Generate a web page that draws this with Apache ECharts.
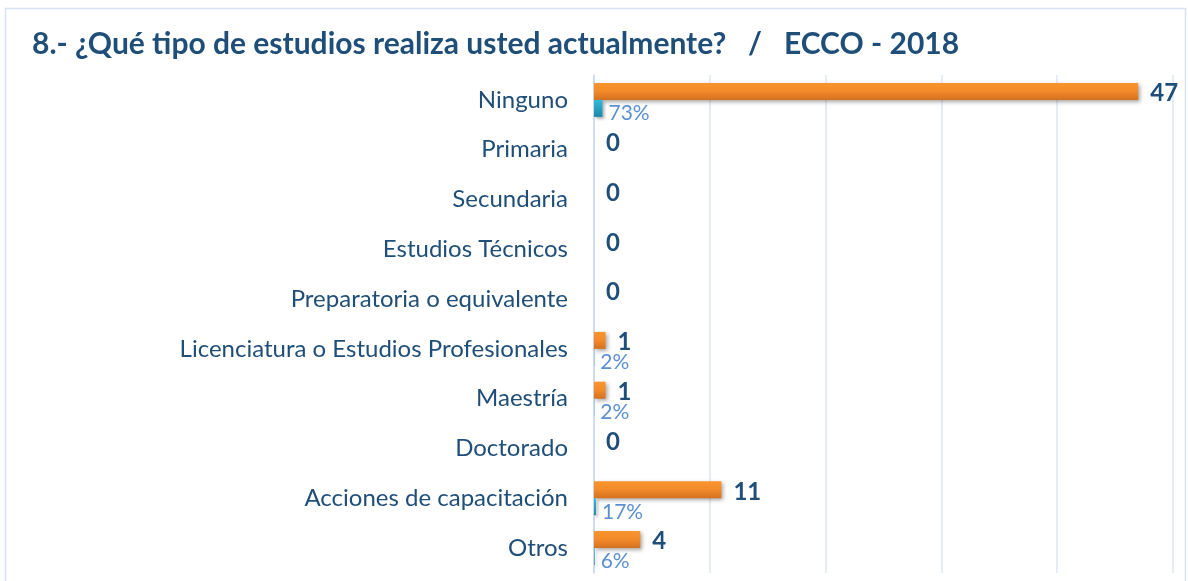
<!DOCTYPE html>
<html>
<head>
<meta charset="utf-8">
<script src="https://cdn.jsdelivr.net/npm/echarts@6/dist/echarts.min.js"></script>
<style>
  html, body { margin: 0; padding: 0; background: #fff; }
  #chart { width: 1188px; height: 581px; }
</style>
</head>
<body>
<div id="chart"></div>
<script>
// datos de la gráfica
const categorias = ['Ninguno', 'Primaria', 'Secundaria', 'Estudios Técnicos',
  'Preparatoria o equivalente', 'Licenciatura o Estudios Profesionales',
  'Maestría', 'Doctorado', 'Acciones de capacitación', 'Otros'];
const respuestas = [47, 0, 0, 0, 0, 1, 1, 0, 11, 4];
const porcentajes = [73, 0, 0, 0, 0, 2, 2, 0, 17, 6];

const azulOscuro = '#1F4E79';
const fuente = 'Lato';

const chart = echarts.init(document.getElementById('chart'));

chart.setOption({
  backgroundColor: '#fff',
  animation: false,
  title: {
    text: '8.- ¿Qué tipo de estudios realiza usted actualmente?   /   ECCO - 2018',
    left: 27,
    top: 24,
    textStyle: { color: azulOscuro, fontFamily: fuente, fontWeight: 'bold', fontSize: 30 }
  },
  graphic: [{
    type: 'rect',
    shape: { x: 5.5, y: 8.5, width: 1180, height: 600 },
    style: { fill: 'none', stroke: '#D5E3F4', lineWidth: 1.5 },
    silent: true
  }],
  grid: { left: 594, right: 15, top: 75, bottom: 8 },
  xAxis: {
    type: 'value',
    min: 0,
    max: 50,
    interval: 10,
    axisLine: { show: false },
    axisTick: { show: false },
    axisLabel: { show: false },
    splitLine: { lineStyle: { color: '#DCE6F2', width: 1.5 } }
  },
  yAxis: {
    type: 'category',
    inverse: true,
    data: categorias,
    axisLine: { lineStyle: { color: '#C8D9EE', width: 1.5 } },
    axisTick: { show: false },
    axisLabel: { color: azulOscuro, fontFamily: fuente, fontSize: 24, margin: 26 }
  },
  series: [
    {
      name: 'Respuestas',
      type: 'bar',
      data: respuestas,
      barWidth: 17,
      barGap: '0%',
      itemStyle: {
        color: new echarts.graphic.LinearGradient(0, 0, 0, 1, [
          { offset: 0, color: '#F9952F' },
          { offset: 0.5, color: '#F28A2A' },
          { offset: 1, color: '#D4701F' }
        ]),
        shadowColor: 'rgba(0,0,0,0.35)',
        shadowBlur: 4,
        shadowOffsetX: 2,
        shadowOffsetY: 2
      },
      label: {
        show: true,
        position: 'right',
        distance: 12,
        offset: [0, 2],
        color: azulOscuro,
        fontFamily: fuente,
        fontWeight: 'bold',
        fontSize: 24
      }
    },
    {
      name: 'Porcentaje',
      type: 'bar',
      data: porcentajes.map(p => p / 100),
      barWidth: 17,
      barGap: '0%',
      itemStyle: {
        color: new echarts.graphic.LinearGradient(0, 0, 0, 1, [
          { offset: 0, color: '#36B9DC' },
          { offset: 1, color: '#1B86A6' }
        ]),
        shadowColor: 'rgba(0,0,0,0.3)',
        shadowBlur: 3,
        shadowOffsetX: 2,
        shadowOffsetY: 2
      },
      label: {
        show: true,
        position: 'right',
        distance: 6,
        offset: [0, 5],
        color: '#5B8FD3',
        fontFamily: fuente,
        fontSize: 21,
        formatter: p => porcentajes[p.dataIndex] > 0 ? porcentajes[p.dataIndex] + '%' : ''
      }
    }
  ]
});
</script>
</body>
</html>
